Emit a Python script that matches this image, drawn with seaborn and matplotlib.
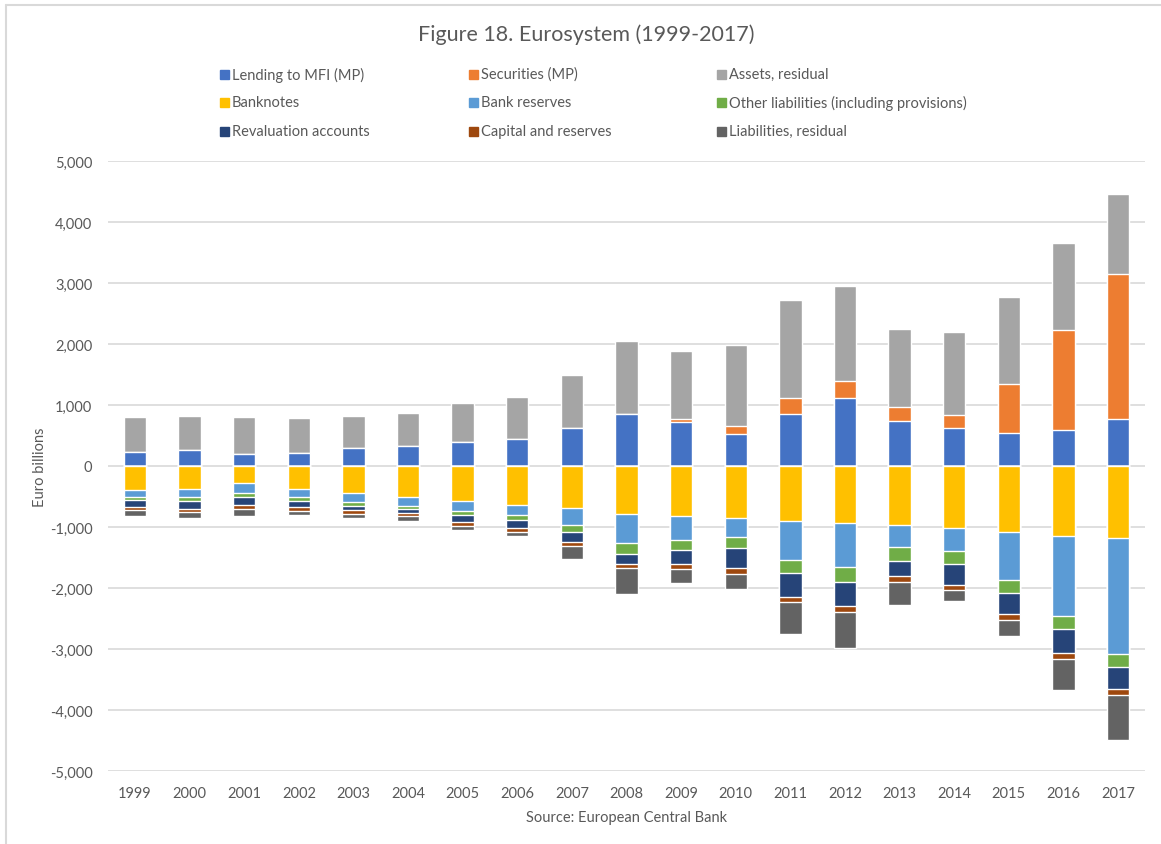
import numpy as np
import pandas as pd
import matplotlib
matplotlib.use("Agg")
import matplotlib.pyplot as plt
import seaborn as sns
from matplotlib.patches import Rectangle
from matplotlib.lines import Line2D
from matplotlib.ticker import FuncFormatter, MultipleLocator

# DONNEES (euro billions)

years = [str(y) for y in range(1999, 2018)]

# actif
lending = [235, 262, 191, 208, 290, 333, 399, 437, 623, 852, 726, 524, 852, 1115, 743, 628, 541, 585, 765]
securities = [0, 0, 0, 0, 0, 0, 0, 0, 0, 0, 44, 136, 263, 278, 230, 213, 803, 1649, 2377]
assets_res = [563, 563, 607, 573, 535, 530, 629, 694, 868, 1201, 1120, 1328, 1606, 1557, 1277, 1350, 1421, 1416, 1316]

# passif
banknotes = [393, 377, 284, 377, 448, 513, 579, 634, 688, 787, 825, 852, 901, 929, 962, 1016, 1088, 1142, 1185]
reserves = [110, 136, 153, 136, 147, 137, 153, 174, 284, 475, 388, 317, 640, 721, 360, 372, 775, 1316, 1897]
other_liab = [54, 66, 76, 66, 55, 55, 66, 77, 115, 180, 164, 175, 208, 246, 230, 224, 218, 209, 208]
revaluation = [110, 126, 121, 88, 71, 65, 120, 126, 153, 169, 229, 333, 393, 404, 257, 333, 349, 404, 365]
capital = [54, 54, 71, 65, 66, 55, 65, 71, 71, 66, 77, 88, 92, 98, 98, 93, 94, 87, 104]
liab_res = [99, 88, 115, 71, 60, 76, 66, 71, 208, 421, 240, 251, 514, 580, 366, 174, 263, 514, 737]

labels = ["Lending to MFI (MP)", "Securities (MP)", "Assets, residual",
          "Banknotes", "Bank reserves", "Other liabilities (including provisions)",
          "Revaluation accounts", "Capital and reserves", "Liabilities, residual"]
colors = ["#4472C4", "#ED7D31", "#A5A5A5",
          "#FFC000", "#5B9BD5", "#70AD47",
          "#264478", "#9E480E", "#636363"]

# cumul pour empiler (les barres les plus grandes d'abord)
pos = [np.array(lending), np.array(securities), np.array(assets_res)]
neg = [np.array(banknotes), np.array(reserves), np.array(other_liab),
       np.array(revaluation), np.array(capital), np.array(liab_res)]
pos_cum = np.cumsum(pos, axis=0)
neg_cum = -np.cumsum(neg, axis=0)
pos_colors = colors[0:3]
neg_colors = colors[3:9]

# FIGURE

sns.set_style("white")
plt.rcParams['font.family'] = ['Lato', 'DejaVu Sans']
txt = "#595959"

W, H = 1161, 845
fig = plt.figure(figsize=(W / 100, H / 100), dpi=100)
ax = fig.add_axes([107.7 / W, 1 - 772 / H, (1145.3 - 107.7) / W, (772 - 162) / H])

for i in [2, 1, 0]:
    sns.barplot(x=years, y=pos_cum[i], color=pos_colors[i], width=0.41,
                saturation=1, ax=ax, order=years)
for i in [5, 4, 3, 2, 1, 0]:
    sns.barplot(x=years, y=neg_cum[i], color=neg_colors[i], width=0.41,
                saturation=1, ax=ax, order=years)

ax.set_ylim(-5000, 5000)
ax.set_xlim(-0.5, len(years) - 0.5)
ax.yaxis.set_major_locator(MultipleLocator(1000))
ax.yaxis.set_major_formatter(FuncFormatter(lambda v, p: f"{v:,.0f}"))
ax.yaxis.grid(True, color="#D9D9D9", linewidth=1.2)
ax.set_axisbelow(True)
for s in ax.spines.values():
    s.set_visible(False)
ax.tick_params(axis="both", length=0, labelsize=10.5, colors=txt, pad=11)
ax.set_xlabel("")
ax.set_ylabel("")

# textes
def fx(x):
    return x / W

def fy(y):
    return 1 - y / H

fig.text(fx(586), fy(35), "Figure 18. Eurosystem (1999-2017)", fontsize=15.5,
         color=txt, ha="center", va="center")
fig.text(fx(40), fy(467), "Euro billions", fontsize=10.5, color=txt,
         rotation=90, ha="center", va="center")
fig.text(fx(627), fy(818), "Source: European Central Bank", fontsize=10.5,
         color=txt, ha="center", va="center")

# legende (3 colonnes, ordre par ligne)
col_x = [220, 469, 717]
row_y = [75, 103, 132]
for k, (lab, col) in enumerate(zip(labels, colors)):
    r, c = k // 3, k % 3
    x0, y0 = col_x[c], row_y[r]
    fig.patches.append(Rectangle((fx(x0), fy(y0 + 4.5)), 9 / W, 9 / H,
                                 transform=fig.transFigure, color=col, figure=fig))
    fig.text(fx(x0 + 12), fy(y0), lab, fontsize=10.5, color=txt, ha="left", va="center")

# cadre du graphique
fig.add_artist(Line2D([fx(6), fx(6)], [fy(6), 0], color="#D9D9D9", linewidth=1.5,
                      transform=fig.transFigure))
fig.add_artist(Line2D([fx(6), 1], [fy(6), fy(6)], color="#D9D9D9", linewidth=1.5,
                      transform=fig.transFigure))

plt.savefig("out.png", dpi=100)
plt.close()
